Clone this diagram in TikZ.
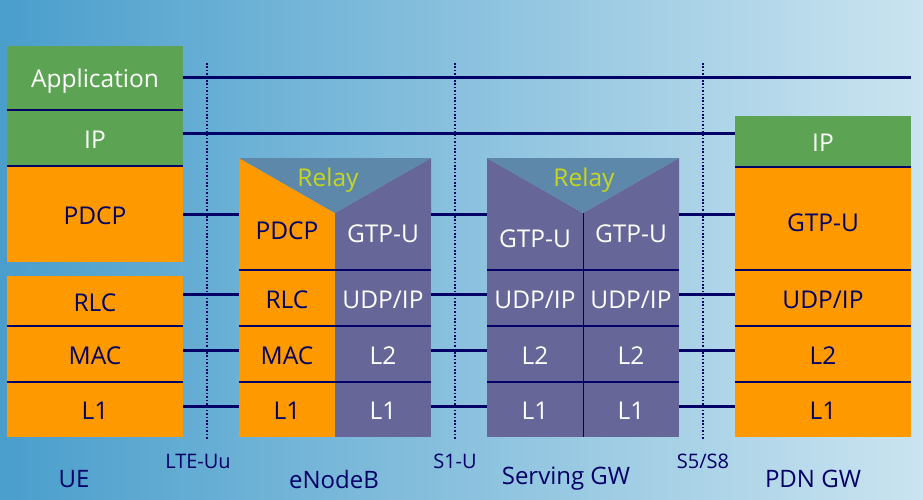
\documentclass[tikz,border=0pt]{standalone}
\usepackage{fontspec}
\setmainfont{Open Sans}
\usepackage{tikz}
\usetikzlibrary{positioning}

\definecolor{lteorange}{RGB}{255,153,0}
\definecolor{ltegreen}{RGB}{92,164,83}
\definecolor{ltepurple}{RGB}{102,102,153}
\definecolor{ltenavy}{RGB}{0,0,102}
\definecolor{lterelay}{RGB}{94,136,170}
\definecolor{lterelaytext}{RGB}{196,214,30}
\definecolor{bgleft}{RGB}{74,158,204}
\definecolor{bgmid}{RGB}{140,197,224}
\definecolor{bgright}{RGB}{202,228,240}

\begin{document}
\begin{tikzpicture}[
			x=1pt, y=-1pt,
			node distance=0pt,
			layer/.style={
				rectangle,
				inner sep=0pt,
				outer sep=0pt,
				text height=22pt,
				text depth=2pt,
				font=\fontsize{24.5}{28}\selectfont
			},
			wide/.style={layer, minimum width=176pt},
			half/.style={layer, minimum width=96pt},
			orng/.style={fill=lteorange, text=ltenavy},
			grn/.style={fill=ltegreen, text=white},
			purp/.style={fill=ltepurple, text=white},
			sep/.style={draw=ltenavy, line width=1.5pt},
			thinsep/.style={draw=ltenavy, line width=0.8pt},
			link/.style={draw=ltenavy, line width=3pt},
			iface/.style={draw=ltenavy, line width=1.6pt, dash pattern=on 1.6pt off 1.8pt},
			relaytext/.style={text=lterelaytext, font=\fontsize{24.5}{28}\selectfont},
			lbl/.style={text=ltenavy, font=\fontsize{24}{28}\selectfont},
			ifacelbl/.style={text=ltenavy, font=\fontsize{20}{24}\selectfont}
			]
			
			\useasboundingbox (0,0) rectangle (923,500);
			\shade[left color=bgleft, middle color=bgmid, right color=bgright] (0,0) rectangle (923,500);
			
			% UE
			\node[wide, grn, minimum height=64pt] (ue-app) at (95,78) {Application};
			\node[wide, grn, minimum height=56pt, below=of ue-app] (ue-ip) {IP};
			\node[wide, orng, minimum height=96pt, below=of ue-ip] (ue-pdcp) {PDCP};
			\node[wide, orng, minimum height=50pt, below=14pt of ue-pdcp] (ue-rlc) {RLC};
			\node[wide, orng, minimum height=56pt, below=of ue-rlc] (ue-mac) {MAC};
			\node[wide, orng, minimum height=55pt, below=of ue-mac] (ue-l1) {L1};
			
			% eNodeB
			\node[half, orng, minimum height=57pt] (enb-pdcp) at (287,241.5) {\raisebox{12pt}{PDCP}};
			\node[half, purp, minimum height=57pt, right=of enb-pdcp] (enb-gtp) {\raisebox{9pt}{GTP-U}};
			\node[half, orng, minimum height=56pt, below=of enb-pdcp] (enb-rlc) {RLC};
			\node[half, purp, minimum height=56pt, below=of enb-gtp] (enb-udp) {UDP/IP};
			\node[half, orng, minimum height=56pt, below=of enb-rlc] (enb-mac) {MAC};
			\node[half, purp, minimum height=56pt, below=of enb-udp] (enb-l2) {L2};
			\node[half, orng, minimum height=55pt, below=of enb-mac] (enb-l1a) {L1};
			\node[half, purp, minimum height=55pt, below=of enb-l2] (enb-l1b) {L1};
			
			% Serving GW
			\node[half, purp, minimum height=57pt] (sgw-gtpa) at (535,241.5) {\raisebox{4pt}{GTP-U}};
			\node[half, purp, minimum height=57pt, right=of sgw-gtpa] (sgw-gtpb) {\raisebox{9pt}{GTP-U}};
			\node[half, purp, minimum height=56pt, below=of sgw-gtpa] (sgw-udpa) {UDP/IP};
			\node[half, purp, minimum height=56pt, below=of sgw-gtpb] (sgw-udpb) {UDP/IP};
			\node[half, purp, minimum height=56pt, below=of sgw-udpa] (sgw-l2a) {L2};
			\node[half, purp, minimum height=56pt, below=of sgw-udpb] (sgw-l2b) {L2};
			\node[half, purp, minimum height=55pt, below=of sgw-l2a] (sgw-l1a) {L1};
			\node[half, purp, minimum height=55pt, below=of sgw-l2b] (sgw-l1b) {L1};
			
			% PDN GW
			\node[wide, grn, minimum height=51pt] (pdn-ip) at (823,141.5) {IP};
			\node[wide, orng, minimum height=103pt, below=of pdn-ip] (pdn-gtp) {\raisebox{-3pt}{GTP-U}};
			\node[wide, orng, minimum height=56pt, below=of pdn-gtp] (pdn-udp) {UDP/IP};
			\node[wide, orng, minimum height=56pt, below=of pdn-udp] (pdn-l2) {L2};
			\node[wide, orng, minimum height=55pt, below=of pdn-l2] (pdn-l1) {L1};
			
			% relay wedges
			\fill[lteorange] (enb-pdcp.north west) -- ([yshift=55pt]enb-pdcp.north west) -- (enb-pdcp.north east) -- cycle;
			\fill[ltepurple] (enb-gtp.north east) -- ([yshift=55pt]enb-gtp.north east) -- (enb-gtp.north west) -- cycle;
			\fill[lterelay] ([yshift=55pt]enb-pdcp.north west) -- ([yshift=55pt]enb-gtp.north east) -- (enb-pdcp.north east) -- cycle;
			\fill[ltepurple] (sgw-gtpa.north west) -- ([yshift=55pt]sgw-gtpa.north west) -- (sgw-gtpa.north east) -- cycle;
			\fill[ltepurple] (sgw-gtpb.north east) -- ([yshift=55pt]sgw-gtpb.north east) -- (sgw-gtpb.north west) -- cycle;
			\fill[lterelay] ([yshift=55pt]sgw-gtpa.north west) -- ([yshift=55pt]sgw-gtpb.north east) -- (sgw-gtpa.north east) -- cycle;
			\node[relaytext] (enb-relay) at ([xshift=-7pt, yshift=33pt]enb-pdcp.north east) {Relay};
			\node[relaytext] (sgw-relay) at ([xshift=1pt, yshift=33pt]sgw-gtpa.north east) {Relay};
			
			% row borders
			\foreach \n in {ue-ip, ue-pdcp, ue-mac, ue-l1, pdn-gtp, pdn-udp, pdn-l2, pdn-l1}
				\draw[sep] (\n.north west) -- (\n.north east);
			\foreach \a/\b in {enb-rlc/enb-udp, enb-mac/enb-l2, enb-l1a/enb-l1b, sgw-udpa/sgw-udpb, sgw-l2a/sgw-l2b, sgw-l1a/sgw-l1b}
				\draw[sep] (\a.north west) -- (\b.north east);
			\draw[thinsep] (sgw-gtpa.north east) -- (sgw-l1a.south east);
			
			% peer links
			\coordinate (y-ip) at (0,134);
			\coordinate (y-gtp) at (0,214);
			\coordinate (y-rlc) at (0,294);
			\coordinate (y-mac) at (0,350);
			\coordinate (y-l1) at (0,406);
			
			\draw[link] (ue-app.east) -- (ue-app.east -| pdn-ip.east);
			\draw[link] (ue-ip.east |- y-ip) -- (pdn-ip.west |- y-ip);
			\draw[link] (ue-pdcp.east |- y-gtp) -- (enb-pdcp.west |- y-gtp);
			\draw[link] (enb-gtp.east |- y-gtp) -- (sgw-gtpa.west |- y-gtp);
			\draw[link] (sgw-gtpb.east |- y-gtp) -- (pdn-gtp.west |- y-gtp);
			\draw[link] (ue-rlc.east |- y-rlc) -- (enb-rlc.west |- y-rlc);
			\draw[link] (enb-udp.east |- y-rlc) -- (sgw-udpa.west |- y-rlc);
			\draw[link] (sgw-udpb.east |- y-rlc) -- (pdn-udp.west |- y-rlc);
			\draw[link] (ue-mac.east |- y-mac) -- (enb-mac.west |- y-mac);
			\draw[link] (enb-l2.east |- y-mac) -- (sgw-l2a.west |- y-mac);
			\draw[link] (sgw-l2b.east |- y-mac) -- (pdn-l2.west |- y-mac);
			\draw[link] (ue-l1.east |- y-l1) -- (enb-l1a.west |- y-l1);
			\draw[link] (enb-l1b.east |- y-l1) -- (sgw-l1a.west |- y-l1);
			\draw[link] (sgw-l1b.east |- y-l1) -- (pdn-l1.west |- y-l1);
			
			% interfaces
			\coordinate (uu-top) at (207,63);
			\coordinate (uu-bot) at (207,440);
			\coordinate (s1-top) at (455,63);
			\coordinate (s1-bot) at (455,440);
			\coordinate (s5-top) at (703,63);
			\coordinate (s5-bot) at (703,440);
			\draw[iface] (uu-top) -- (uu-bot);
			\draw[iface] (s1-top) -- (s1-bot);
			\draw[iface] (s5-top) -- (s5-bot);
			
			\node[ifacelbl] (lbl-uu) at (198,461) {LTE-Uu};
			\node[ifacelbl] (lbl-s1) at (455,461) {S1-U};
			\node[ifacelbl] (lbl-s5) at (703,461) {S5/S8};
			\node[lbl] (lbl-ue) at (74,479) {UE};
			\node[lbl] (lbl-enb) at (334,479) {eNodeB};
			\node[lbl] (lbl-sgw) at (566,479) {Serving GW};
			\node[lbl] (lbl-pdn) at (813,479) {PDN GW};
			
		\end{tikzpicture}
\end{document}
